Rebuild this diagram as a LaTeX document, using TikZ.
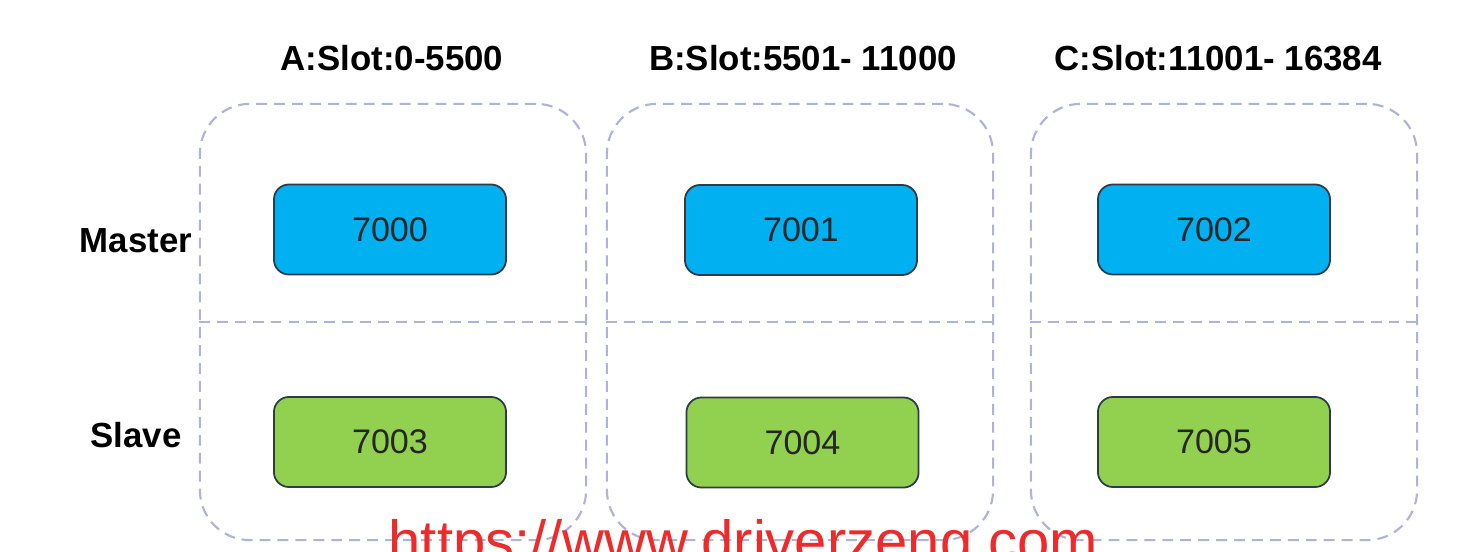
\documentclass[tikz,border=0pt]{standalone}
\usepackage{fontspec}
\setmainfont{Liberation Sans}
\definecolor{bleumaitre}{HTML}{00B0F0}
\definecolor{vertesclave}{HTML}{92D050}
\definecolor{lavande}{HTML}{AEB3D8}
\definecolor{bordnoeud}{HTML}{2E3B48}
\definecolor{rougemarque}{HTML}{EE2A2A}

\begin{document}
\begin{tikzpicture}[x=0.01cm, y=-0.01cm]
\tikzset{groupe/.style={draw=lavande, line width=0.6pt, dash pattern=on 3.1pt off 2pt, rounded corners=0.5cm, minimum width=3.86cm, minimum height=4.36cm, inner sep=0pt},
  separe/.style={draw=lavande, line width=0.6pt, dash pattern=on 3.1pt off 2pt},
  noeud/.style={draw=bordnoeud, line width=0.5pt, rounded corners=0.15cm, minimum width=2.32cm, minimum height=0.9cm, inner sep=0pt, text=black!85, font=\fontsize{9.7}{11}\selectfont},
  maitre/.style={noeud, fill=bleumaitre},
  esclave/.style={noeud, fill=vertesclave},
  titre/.style={anchor=base, font=\fontsize{9.9}{12}\selectfont\bfseries}}
\clip (0,0) rectangle (1472,551);
\fill[white] (0,0) rectangle (1472,551);
\node[groupe] (GA) at (393,322) {};
\node[groupe] (GB) at (800,322) {};
\node[groupe] (GC) at (1224,322) {};
\draw[separe] (GA.west) -- (GA.east);
\draw[separe] (GB.west) -- (GB.east);
\draw[separe] (GC.west) -- (GC.east);
\node[titre] (TA) at (392,70) {A:Slot:0-5500};
\node[titre] (TB) at (803,70) {B:Slot:5501- 11000};
\node[titre] (TC) at (1218,70) {C:Slot:11001- 16384};
\node[titre] (LM) at (136,252) {Master};
\node[titre] (LS) at (136,447) {Slave};
\node[maitre] (M1) at (390,229.5) {7000};
\node[maitre] (M2) at (801,230) {7001};
\node[maitre] (M3) at (1214,229.5) {7002};
\node[esclave] (S1) at (390,442) {7003};
\node[esclave] (S2) at (802.5,442.5) {7004};
\node[esclave] (S3) at (1214,442) {7005};
\node[anchor=base west, inner sep=0pt, text=rougemarque, font=\fontsize{16.5}{18}\selectfont] (WM) at (388,561) {https://www.driverzeng.com};
\end{tikzpicture}
\end{document}
